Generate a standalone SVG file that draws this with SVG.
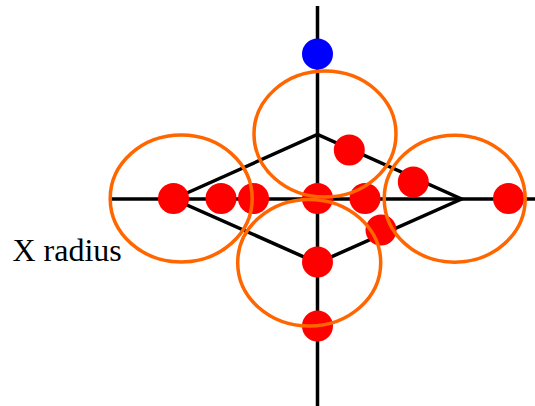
<svg xmlns="http://www.w3.org/2000/svg" width="535" height="406" viewBox="0 0 535 406">
<style>
.ln{stroke:#000;stroke-width:3.5;fill:none}
.red{fill:#ff0000}
.blue{fill:#0000ff}
.ell{fill:none;stroke:#ff6600;stroke-width:3.5}
.lbl{font-family:"Liberation Serif","Times New Roman",serif;font-size:32px;fill:#000}
</style>
<rect width="535" height="406" fill="#fff"/>
<g id="connectors">
<line class="ln" x1="317.5" y1="6" x2="317.5" y2="406"/>
<line class="ln" x1="111.5" y1="199" x2="535" y2="199"/>
<polygon class="ln" points="173.5,199 317.5,134.5 461.5,199 317.5,263"/>
</g>
<g id="dots">
<circle id="blue-dot" class="blue" cx="317.5" cy="54" r="15.5"/>
<circle class="red" cx="173.5" cy="198.5" r="15.5"/>
<circle class="red" cx="221" cy="198.5" r="15.5"/>
<circle class="red" cx="253.5" cy="198.5" r="15.5"/>
<circle class="red" cx="317.5" cy="198.5" r="15.5"/>
<circle class="red" cx="365" cy="198.5" r="15.5"/>
<circle class="red" cx="508.5" cy="198.5" r="15.5"/>
<circle class="red" cx="349.3" cy="150" r="15.5"/>
<circle class="red" cx="413.3" cy="182" r="15.5"/>
<circle class="red" cx="381" cy="230" r="15.5"/>
<circle class="red" cx="317.5" cy="262" r="15.5"/>
<circle class="red" cx="317.5" cy="326" r="15.5"/>
</g>
<g id="circles">
<ellipse id="ell-top" class="ell" cx="325" cy="134" rx="71" ry="63"/>
<ellipse id="ell-left" class="ell" cx="181.2" cy="198.5" rx="71" ry="63.5"/>
<ellipse id="ell-right" class="ell" cx="454.7" cy="198.7" rx="70.5" ry="63.5"/>
<ellipse id="ell-bottom" class="ell" cx="309.2" cy="262.7" rx="71.5" ry="63.3"/>
</g>
<g id="label">
<text class="lbl" x="12.5" y="261">X radius</text>
</g>
</svg>
